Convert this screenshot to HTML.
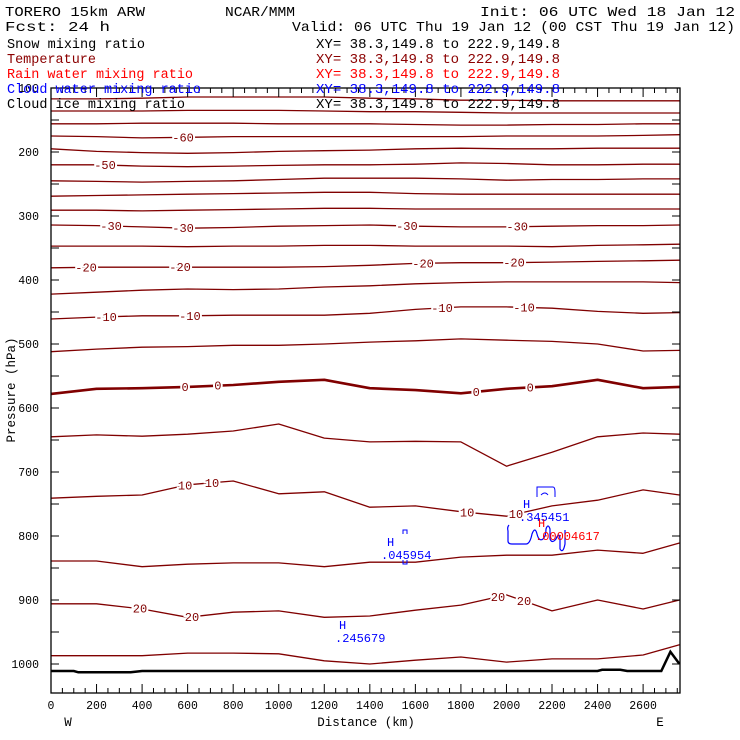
<!DOCTYPE html>
<html><head><meta charset="utf-8">
<style>
html,body{margin:0;padding:0;background:#fff;}
svg{display:block;}
text{font-family:"Liberation Mono","DejaVu Sans Mono",monospace;}
</style></head>
<body>
<svg id="chart" width="740" height="740" viewBox="0 0 740 740" xmlns="http://www.w3.org/2000/svg">
<rect x="0" y="0" width="740" height="740" fill="#fff"/>
<g id="contours"></g>
<g id="terrain"></g>
<g id="labels"></g>
<g id="axes"></g>
<g font-size="12" fill="#0000ff">
  <text x="387" y="546">H</text>
  <text x="381" y="559">.045954</text>
  <path d="M403 534 v-4 h4 v4 M403 560 v4 h4 v-4" stroke="#0000ff" fill="none"/>
  <text x="339" y="629">H</text>
  <text x="335" y="642">.245679</text>
  <text x="523" y="508">H</text>
  <text x="519" y="521">.345451</text>
  <path d="M537 497 v-10 h16 q2 0 2 5 v5 M541 495 q4 -4 7 0" stroke="#0000ff" fill="none"/>
  <path d="M509 525 q-2 2 -1 6 v10 q0 3 4 3 h14 q4 0 6 -10 q3 -8 5 0 q2 8 6 5 q3 -3 3 -10 q2 -6 4 0 v10 q2 5 6 0 q3 -8 4 0 v10 q3 5 5 -5 v-14" stroke="#0000ff" fill="none" stroke-width="1.2"/>
  <text x="538" y="527" fill="#ff0000">H</text>
  <text x="535" y="540" fill="#ff0000">.00004617</text>
</g>
<g font-size="14">
  <text x="5" y="16" textLength="140" lengthAdjust="spacingAndGlyphs">TORERO  15km ARW</text>
  <text x="225" y="16" textLength="70" lengthAdjust="spacingAndGlyphs">NCAR/MMM</text>
  <text x="480" y="16" textLength="255" lengthAdjust="spacingAndGlyphs">Init: 06 UTC Wed 18 Jan 12</text>
  <text x="5" y="31" textLength="105" lengthAdjust="spacingAndGlyphs">Fcst:   24 h</text>
  <text x="292" y="31" textLength="443" lengthAdjust="spacingAndGlyphs">Valid: 06 UTC Thu 19 Jan 12 (00 CST Thu 19 Jan 12)</text>
  <g font-size="13.5">
  <text x="7" y="48" textLength="138" lengthAdjust="spacingAndGlyphs">Snow mixing ratio</text>
  <text x="7" y="63" fill="#8b0000" textLength="89" lengthAdjust="spacingAndGlyphs">Temperature</text>
  <text x="7" y="78" fill="#ff0000" textLength="186" lengthAdjust="spacingAndGlyphs">Rain water mixing ratio</text>
  <text x="7" y="93" fill="#0000ff" textLength="194" lengthAdjust="spacingAndGlyphs">Cloud water mixing ratio</text>
  <text x="7" y="108" textLength="178" lengthAdjust="spacingAndGlyphs">Cloud ice mixing ratio</text>
  <text x="316" y="48" textLength="244" lengthAdjust="spacingAndGlyphs">XY=  38.3,149.8 to 222.9,149.8</text>
  <text x="316" y="63" fill="#8b0000" textLength="244" lengthAdjust="spacingAndGlyphs">XY=  38.3,149.8 to 222.9,149.8</text>
  <text x="316" y="78" fill="#ff0000" textLength="244" lengthAdjust="spacingAndGlyphs">XY=  38.3,149.8 to 222.9,149.8</text>
  <text x="316" y="93" fill="#0000ff" textLength="244" lengthAdjust="spacingAndGlyphs">XY=  38.3,149.8 to 222.9,149.8</text>
  <text x="316" y="108" textLength="244" lengthAdjust="spacingAndGlyphs">XY=  38.3,149.8 to 222.9,149.8</text>
  </g>
</g>
</svg>
<script>
const knotKm = [0,200,400,600,800,1000,1200,1400,1600,1800,2000,2200,2400,2600,2760];
const levels = [-75,-70,-65,-60,-55,-50,-45,-40,-35,-30,-25,-20,-15,-10,-5,0,5,10,15,20,25];
const m75 = [117,117,116,114,114,114,114,116,117,119,119,120,120,120,120];
const m70 = [136,136,136,135,135,135,136,137,137,138,139,139,139,139,139];
const m65 = [156,156,155,155,155,156,156,156,157,158,158,157,157,156,156];
const m60 = [175,176,178,177,176,176,176,176,176,176,175,175,175,174,173];
const m55 = [195,199,201,202,201,199,198,197,195,194,195,195,194,194,194];
const m50 = [220,220,222,223,222,221,220,220,219,217,218,220,220,219,219];
const m45 = [245,246,247,246,245,243,241,241,241,242,244,243,243,242,242];
const m40 = [269,268,267,266,265,264,263,263,265,266,266,266,266,266,266];
const m35 = [291,291,292,291,290,289,288,288,289,289,289,289,289,289,289];
const m30 = [314,315,317,319,318,316,315,314,316,317,317,316,315,315,314];
const m25 = [347,347,347,348,347,347,346,346,347,347,347,348,346,345,344];
const m20 = [381,380,380,380,380,380,379,377,374,373,373,372,371,370,369];
const m15 = [422,419,416,414,415,414,411,409,406,404,403,403,403,403,404];
const m10 = [461,458,456,456,455,455,455,452,446,442,442,444,449,452,451];
const m5  = [512,508,505,504,502,502,500,497,495,492,494,496,500,511,510];
const t0  = [578,570,569,567,564,559,556,569,572,577,570,566,556,569,567];
const p5  = [645,642,644,641,636,625,647,653,652,653,691,669,645,639,641];
const p10 = [741,738,736,720,714,734,731,755,753,762,769,753,744,728,736];
const p15 = [839,839,848,844,842,842,848,841,841,833,830,830,822,827,811];
const p20 = [906,906,914,927,919,917,927,925,916,908,892,917,900,914,900];
const p25 = [987,987,987,983,983,984,995,1000,994,989,997,992,992,986,970];
const series = [m75,m70,m65,m60,m55,m50,m45,m40,m35,m30,m25,m20,m15,m10,m5,t0,p5,p10,p15,p20,p25];
const terrainKm = [0,100,120,350,400,2400,2420,2500,2530,2680,2720,2760];
const terrainP = [1011,1011,1013,1013,1011,1011,1009,1009,1011,1011,981,1000];
const labelLevels = [-60,-50,-30,-30,-30,-30,-20,-20,-20,-20,-10,-10,-10,-10,0,0,0,0,10,10,10,10,20,20,20,20];
const labelKm = [580,237,264,580,1563,2047,154,567,1634,2033,242,610,1717,2077,589,733,1867,2104,589,707,1827,2042,391,619,1963,2077];
const xTicks = [0,200,400,600,800,1000,1200,1400,1600,1800,2000,2200,2400,2600];
const yTicks = [100,200,300,400,500,600,700,800,900,1000];

const NS='http://www.w3.org/2000/svg';
const X0=51, X1=680, Y0=88, Y1=693, KMMAX=2762, PMIN=100, PMAX=1045.3;
function xS(km){return X0+km*(X1-X0)/KMMAX;}
function yS(p){return Y0+(p-PMIN)*(Y1-Y0)/(PMAX-PMIN);}
function mk(tag,attrs,parent){const e=document.createElementNS(NS,tag);for(const k in attrs)e.setAttribute(k,attrs[k]);parent.appendChild(e);return e;}
function interp(arr,km){for(let i=0;i<knotKm.length-1;i++){if(km<=knotKm[i+1]){const t=(km-knotKm[i])/(knotKm[i+1]-knotKm[i]);return arr[i]+t*(arr[i+1]-arr[i]);}}return arr[arr.length-1];}

const gC=document.getElementById('contours');
series.forEach((arr,i)=>{
  const pts=arr.map((p,j)=>xS(knotKm[j]).toFixed(1)+','+yS(p).toFixed(1)).join(' ');
  const pl=mk('polyline',{points:pts,fill:'none',stroke:'#800000','stroke-width':levels[i]===0?2.6:1.3,'stroke-linejoin':'round'},gC);
  
  
});
const gT=document.getElementById('terrain');
const tl=mk('polyline',{points:terrainKm.map((k,i)=>xS(k).toFixed(1)+','+yS(terrainP[i]).toFixed(1)).join(' '),fill:'none',stroke:'#000','stroke-width':2.5},gT);



const gL=document.getElementById('labels');
labelLevels.forEach((lv,i)=>{
  const arr=series[levels.indexOf(lv)];
  const p=interp(arr,labelKm[i]);
  const t=mk('text',{x:xS(labelKm[i]).toFixed(1),y:(yS(p)+4).toFixed(1),'text-anchor':'middle','font-size':12,fill:'#800000',stroke:'#fff','stroke-width':4,'paint-order':'stroke'},gL);
  t.textContent=String(lv);
  
  
});

const gA=document.getElementById('axes');
const fr=mk('rect',{x:X0,y:Y0,width:X1-X0,height:Y1-Y0,fill:'none',stroke:'#000','stroke-width':1.3},gA);


for(let km=0;km<=KMMAX;km+=50){
  const x=xS(km), L=(km%200===0)?9:5;
  mk('line',{x1:x,y1:Y1,x2:x,y2:Y1-L,stroke:'#000','stroke-width':1},gA);
  mk('line',{x1:x,y1:Y0,x2:x,y2:Y0+L,stroke:'#000','stroke-width':1},gA);
}
for(let p=150;p<=PMAX;p+=50){
  const y=yS(p);
  mk('line',{x1:X0,y1:y,x2:X0+8,y2:y,stroke:'#000','stroke-width':1},gA);
  mk('line',{x1:X1,y1:y,x2:X1-8,y2:y,stroke:'#000','stroke-width':1},gA);
}
xTicks.forEach(v=>{
  const t=mk('text',{x:xS(v).toFixed(1),y:709,'text-anchor':'middle','font-size':11.5},gA);
  t.textContent=String(v);
  
  
});
yTicks.forEach(v=>{
  const t=mk('text',{x:39,y:(yS(v)+4).toFixed(1),'text-anchor':'end','font-size':11.5},gA);
  t.textContent=String(v);
  
  
});
const xt=mk('text',{x:366,y:726,'text-anchor':'middle','font-size':12.5},gA);
xt.textContent='Distance (km)';


const w=mk('text',{x:68,y:726,'text-anchor':'middle','font-size':12.5},gA);
w.textContent='W';


const e=mk('text',{x:660,y:726,'text-anchor':'middle','font-size':12.5},gA);
e.textContent='E';


const yt=mk('text',{x:0,y:0,'text-anchor':'middle','font-size':12.5,transform:'translate(15,390) rotate(-90)'},gA);
yt.textContent='Pressure (hPa)';


</script>
</body></html>
